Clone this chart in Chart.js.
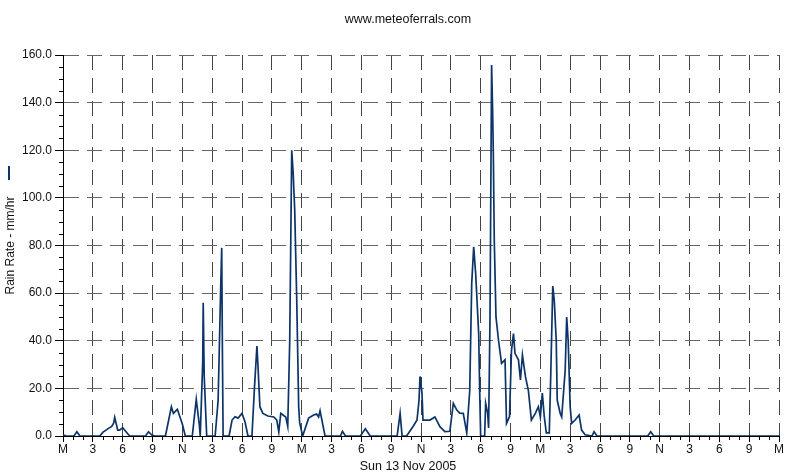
<!DOCTYPE html>
<html>
<head>
<meta charset="utf-8">
<script src="https://cdn.jsdelivr.net/npm/chart.js@4/dist/chart.umd.min.js"></script>
<style>
  body { margin: 0; background: #fff; }
  canvas { display: block; }
</style>
</head>
<body>
<canvas id="rain" width="811" height="476"></canvas>
<script>
// hours from midnight (Sat 12 Nov) and rain rate in mm/hr
const hours = [
  0.0, 0.3, 1.1, 1.4, 1.7, 3.7, 4.0, 4.5, 4.9, 5.1, 5.2, 5.5, 5.7, 6.0, 6.3, 6.7,
  8.3, 8.6, 8.9, 9.2, 10.3, 10.9, 11.1, 11.5, 12.0, 12.3, 13.0, 13.4, 13.7, 13.8,
  14.05, 14.1, 14.2, 14.45, 15.3, 15.6, 15.85, 15.96, 16.04, 16.1, 16.7, 17.0, 17.3,
  17.6, 18.0, 18.3, 18.6, 19.0, 19.25, 19.5, 19.6, 19.8, 20.1, 20.6, 21.2, 21.5,
  21.7, 21.9, 22.4, 22.6, 22.8, 23.0, 23.15, 23.3, 23.5, 23.7, 23.8, 24.1, 24.7,
  25.2, 25.5, 25.7, 25.85, 26.35, 27.9, 28.1, 28.4, 29.9, 30.4, 30.9, 33.6, 33.9,
  34.1, 34.55, 35.2, 35.6, 35.8, 35.9, 36.1, 36.2, 36.9, 37.4, 37.9, 38.4, 38.9,
  39.25, 39.6, 39.9, 40.25, 40.6, 40.9, 41.1, 41.3, 41.5, 41.8, 41.9, 42.0, 42.4,
  42.5, 42.7, 42.8, 42.94, 43.1, 43.2, 43.27, 43.37, 43.54, 43.8, 44.1, 44.45,
  44.6, 44.9, 45.1, 45.3, 45.45, 45.8, 46.0, 46.2, 46.5, 46.8, 47.1, 47.5, 47.8,
  48.0, 48.2, 48.4, 48.6, 48.9, 49.05, 49.25, 49.4, 49.6, 49.7, 50.0, 50.15, 50.5,
  50.65, 50.8, 51.0, 51.15, 51.5, 51.9, 52.15, 52.5, 53.2, 53.4, 53.7, 58.8, 59.1,
  59.4, 72.0
];
const rainRate = [
  0.5, 0, 0, 1.8, 0, 0, 1.5, 3, 4, 5.5, 7.8, 2.5, 2.5, 3.5, 2, 0,
  0, 1.8, 0.5, 0, 0, 12.3, 9.5, 11.2, 5, 0, 0, 15.4, 5, 0,
  31, 56, 25, 0, 0, 15, 61, 79, 30, 0, 0, 6.7, 8.1,
  7.5, 9.5, 6, 0, 0, 20, 37.8, 30, 12.3, 9.5, 8.4, 8, 6.7,
  1.7, 9.5, 8, 4, 40, 120, 110, 95, 58, 12.3, 5.5, 0, 7.5,
  8.8, 9.2, 8, 10.6, 0, 0, 2, 0, 0, 3, 0, 0, 9.5,
  0, 0, 4, 6.7, 15, 25, 18, 6.7, 6.7, 8, 3.9, 1.8, 2,
  13.7, 10.9, 9.6, 9.5, 1.3, 19, 64, 79.5, 68, 43, 19, 0, 0,
  13.7, 9.6, 3.4, 50, 155.8, 137, 120, 82, 50, 40, 30.5, 32,
  5.3, 8.1, 36, 43, 34.7, 32, 23.5, 34, 25, 19, 6.7, 9.5, 12.3,
  8, 18, 8, 1.3, 1.3, 26, 63, 57, 40, 15, 9.5, 8, 27.7,
  50, 40, 12.3, 5.3, 6.7, 8.8, 2.5, 0.5, 0, 1.8, 0, 0, 1.8,
  0, 0
];
const tickLabels = [
  'M', '3', '6', '9', 'N', '3', '6', '9',
  'M', '3', '6', '9', 'N', '3', '6', '9',
  'M', '3', '6', '9', 'N', '3', '6', '9', 'M'
];
const siteTitle = 'www.meteoferrals.com';
const dateLabel = 'Sun 13 Nov 2005';

const FONT = '"Liberation Sans", Arial, sans-serif';
const LINE = '#0d3468';

// extra drawing: minor ticks, title, date, legend mark
const extras = {
  id: 'extras',
  afterDraw(chart) {
    const { ctx, scales: { x, y } } = chart;
    ctx.save();
    ctx.strokeStyle = '#000';
    ctx.lineWidth = 1;
    ctx.beginPath();
    for (let h = 0; h <= 72; h++) {
      if (h % 3 === 0) continue;
      const px = Math.round(x.getPixelForValue(h)) + 0.5;
      ctx.moveTo(px, y.bottom);
      ctx.lineTo(px, y.bottom + 4);
    }
    for (let v = 0; v <= 160; v += 5) {
      if (v % 20 === 0) continue;
      const py = Math.round(y.getPixelForValue(v)) + 0.5;
      ctx.moveTo(x.left - 4, py);
      ctx.lineTo(x.left, py);
    }
    ctx.stroke();

    ctx.fillStyle = '#111';
    ctx.textAlign = 'center';
    ctx.textBaseline = 'middle';
    ctx.font = '12.5px ' + FONT;
    ctx.fillText(siteTitle, 408, 20);
    ctx.fillText(dateLabel, 408, 467);

    ctx.fillStyle = LINE;
    ctx.fillRect(8, 166, 2, 14);
    ctx.restore();
  }
};

new Chart(document.getElementById('rain'), {
  type: 'line',
  data: {
    datasets: [{
      label: 'Rain Rate',
      data: hours.map((h, i) => ({ x: h, y: rainRate[i] })),
      borderColor: LINE,
      borderWidth: 1.7,
      pointRadius: 0,
      tension: 0,
      fill: false
    }]
  },
  options: {
    responsive: false,
    animation: false,
    layout: { padding: { top: 55, right: 32, left: 0, bottom: 0 } },
    plugins: {
      legend: { display: false },
      title: { display: false },
      tooltip: { enabled: false }
    },
    scales: {
      x: {
        type: 'linear',
        min: 0,
        max: 72,
        afterFit: (s) => { s.height = 40; },
        afterBuildTicks: (s) => {
          s.ticks = tickLabels.map((_, i) => ({ value: i * 3 }));
        },
        ticks: {
          autoSkip: false,
          maxRotation: 0,
          padding: 0,
          color: '#111',
          font: { family: FONT, size: 12 },
          callback: (v, i) => tickLabels[i]
        },
        grid: {
          color: '#444',
          tickColor: '#000',
          tickLength: 6,
          tickBorderDash: []
        },
        border: { color: '#000', width: 1, dash: [15, 8] }
      },
      y: {
        min: 0,
        max: 160,
        afterFit: (s) => { s.width = 63; },
        ticks: {
          stepSize: 20,
          padding: 3,
          color: '#111',
          font: { family: FONT, size: 12 },
          callback: (v) => v.toFixed(1)
        },
        grid: {
          color: '#666',
          tickColor: '#000',
          tickLength: 8,
          tickBorderDash: []
        },
        border: { color: '#000', width: 1, dash: [15, 8] },
        title: {
          display: true,
          text: 'Rain Rate - mm/hr',
          color: '#111',
          font: { family: FONT, size: 12 },
          padding: { top: 3, bottom: 0 }
        }
      }
    }
  },
  plugins: [extras]
});
</script>
</body>
</html>
